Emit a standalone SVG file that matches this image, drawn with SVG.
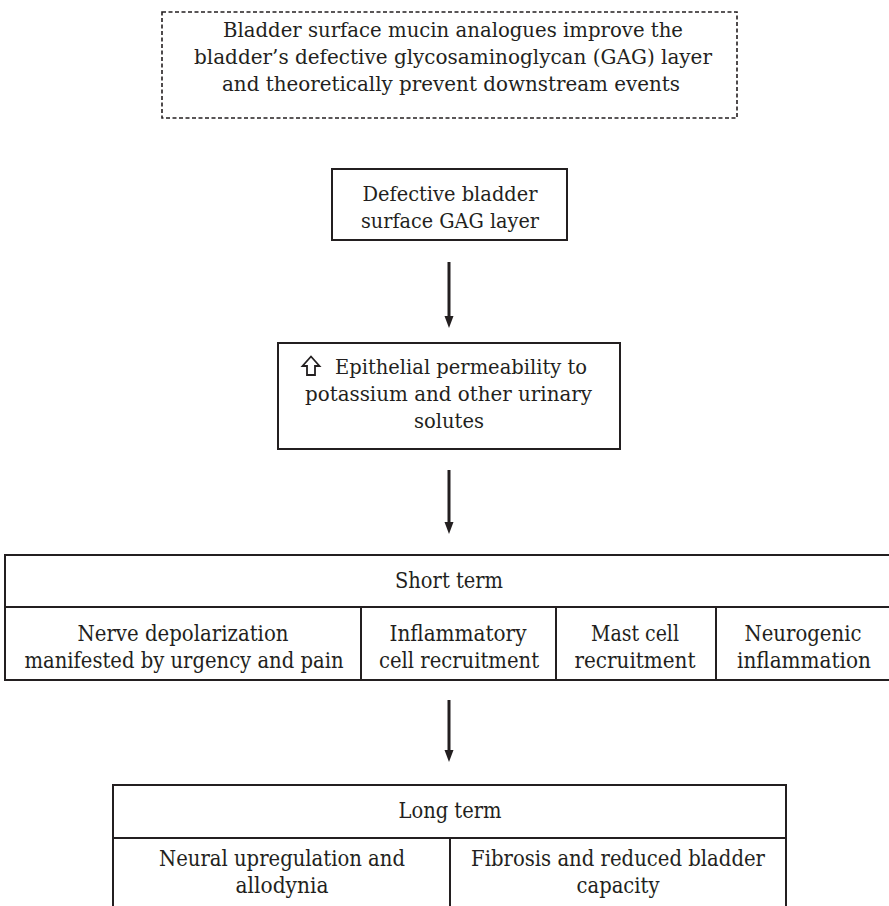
<svg xmlns="http://www.w3.org/2000/svg" width="889" height="906" viewBox="0 0 889 906">
<style>
.t{font-family:"DejaVu Serif","Liberation Serif",serif;font-size:19.5px;fill:#231f20;text-anchor:middle}
.c{font-family:"DejaVu Serif","Liberation Serif",serif;font-size:22px;fill:#231f20;text-anchor:middle}
.box{fill:#fff;stroke:#231f20;stroke-width:2}
.dash{fill:none;stroke:#231f20;stroke-width:1.6;stroke-dasharray:4 2.5}
.ln{stroke:#231f20;stroke-width:2;fill:none}
.arr{stroke:#231f20;stroke-width:3;fill:none}
.head{fill:#231f20}
</style>
<rect width="889" height="906" fill="#fff"/>
<g id="note">
<rect class="dash" x="162" y="12" width="575" height="106"/>
<text class="t" x="453" y="37" textLength="460" lengthAdjust="spacingAndGlyphs">Bladder surface mucin analogues improve the</text>
<text class="t" x="453" y="64" textLength="518" lengthAdjust="spacingAndGlyphs">bladder’s defective glycosaminoglycan (GAG) layer</text>
<text class="t" x="451" y="91" textLength="458" lengthAdjust="spacingAndGlyphs">and theoretically prevent downstream events</text>
</g>
<g id="defective">
<rect class="box" x="332" y="169" width="235" height="71"/>
<text class="t" x="450" y="201" textLength="175" lengthAdjust="spacingAndGlyphs">Defective bladder</text>
<text class="t" x="450" y="228" textLength="178" lengthAdjust="spacingAndGlyphs">surface GAG layer</text>
</g>
<g id="permeability">
<rect class="box" x="278" y="343" width="342" height="106"/>
<polygon points="311,356.5 319.5,366 315,366 315,375 307,375 307,366 302.5,366" fill="none" stroke="#231f20" stroke-width="1.8" stroke-linejoin="miter"/>
<text class="t" x="461" y="374" textLength="252" lengthAdjust="spacingAndGlyphs">Epithelial permeability to</text>
<text class="t" x="448.5" y="401" textLength="287" lengthAdjust="spacingAndGlyphs">potassium and other urinary</text>
<text class="t" x="449" y="428" textLength="70" lengthAdjust="spacingAndGlyphs">solutes</text>
</g>
<g id="short-term">
<rect class="box" x="5" y="555" width="900" height="125"/>
<line class="ln" x1="5" y1="607" x2="889" y2="607"/>
<line class="ln" x1="361" y1="607" x2="361" y2="680"/>
<line class="ln" x1="556" y1="607" x2="556" y2="680"/>
<line class="ln" x1="716" y1="607" x2="716" y2="680"/>
<text class="c" x="449" y="588" textLength="108" lengthAdjust="spacingAndGlyphs">Short term</text>
<text class="c" x="183" y="641" textLength="211" lengthAdjust="spacingAndGlyphs">Nerve depolarization</text>
<text class="c" x="184" y="668" textLength="319" lengthAdjust="spacingAndGlyphs">manifested by urgency and pain</text>
<text class="c" x="458" y="641" textLength="137" lengthAdjust="spacingAndGlyphs">Inflammatory</text>
<text class="c" x="459" y="668" textLength="160" lengthAdjust="spacingAndGlyphs">cell recruitment</text>
<text class="c" x="635" y="641" textLength="88" lengthAdjust="spacingAndGlyphs">Mast cell</text>
<text class="c" x="635" y="668" textLength="121" lengthAdjust="spacingAndGlyphs">recruitment</text>
<text class="c" x="803" y="641" textLength="117" lengthAdjust="spacingAndGlyphs">Neurogenic</text>
<text class="c" x="804" y="668" textLength="134" lengthAdjust="spacingAndGlyphs">inflammation</text>
</g>
<g id="long-term">
<rect class="box" x="113" y="785" width="673" height="140"/>
<line class="ln" x1="113" y1="838" x2="786" y2="838"/>
<line class="ln" x1="450" y1="838" x2="450" y2="906"/>
<text class="c" x="450" y="818" textLength="103" lengthAdjust="spacingAndGlyphs">Long term</text>
<text class="c" x="282" y="866" textLength="246" lengthAdjust="spacingAndGlyphs">Neural upregulation and</text>
<text class="c" x="282" y="893" textLength="93" lengthAdjust="spacingAndGlyphs">allodynia</text>
<text class="c" x="618" y="866" textLength="294" lengthAdjust="spacingAndGlyphs">Fibrosis and reduced bladder</text>
<text class="c" x="618" y="893" textLength="83" lengthAdjust="spacingAndGlyphs">capacity</text>
</g>
<g id="connectors">
<line class="arr" x1="449" y1="262" x2="449" y2="318"/>
<polygon class="head" points="444.5,316 453.5,316 449,328"/>
<line class="arr" x1="449" y1="470" x2="449" y2="524"/>
<polygon class="head" points="444.5,522 453.5,522 449,534"/>
<line class="arr" x1="449" y1="700" x2="449" y2="752"/>
<polygon class="head" points="444.5,750 453.5,750 449,762"/>
</g>
</svg>
